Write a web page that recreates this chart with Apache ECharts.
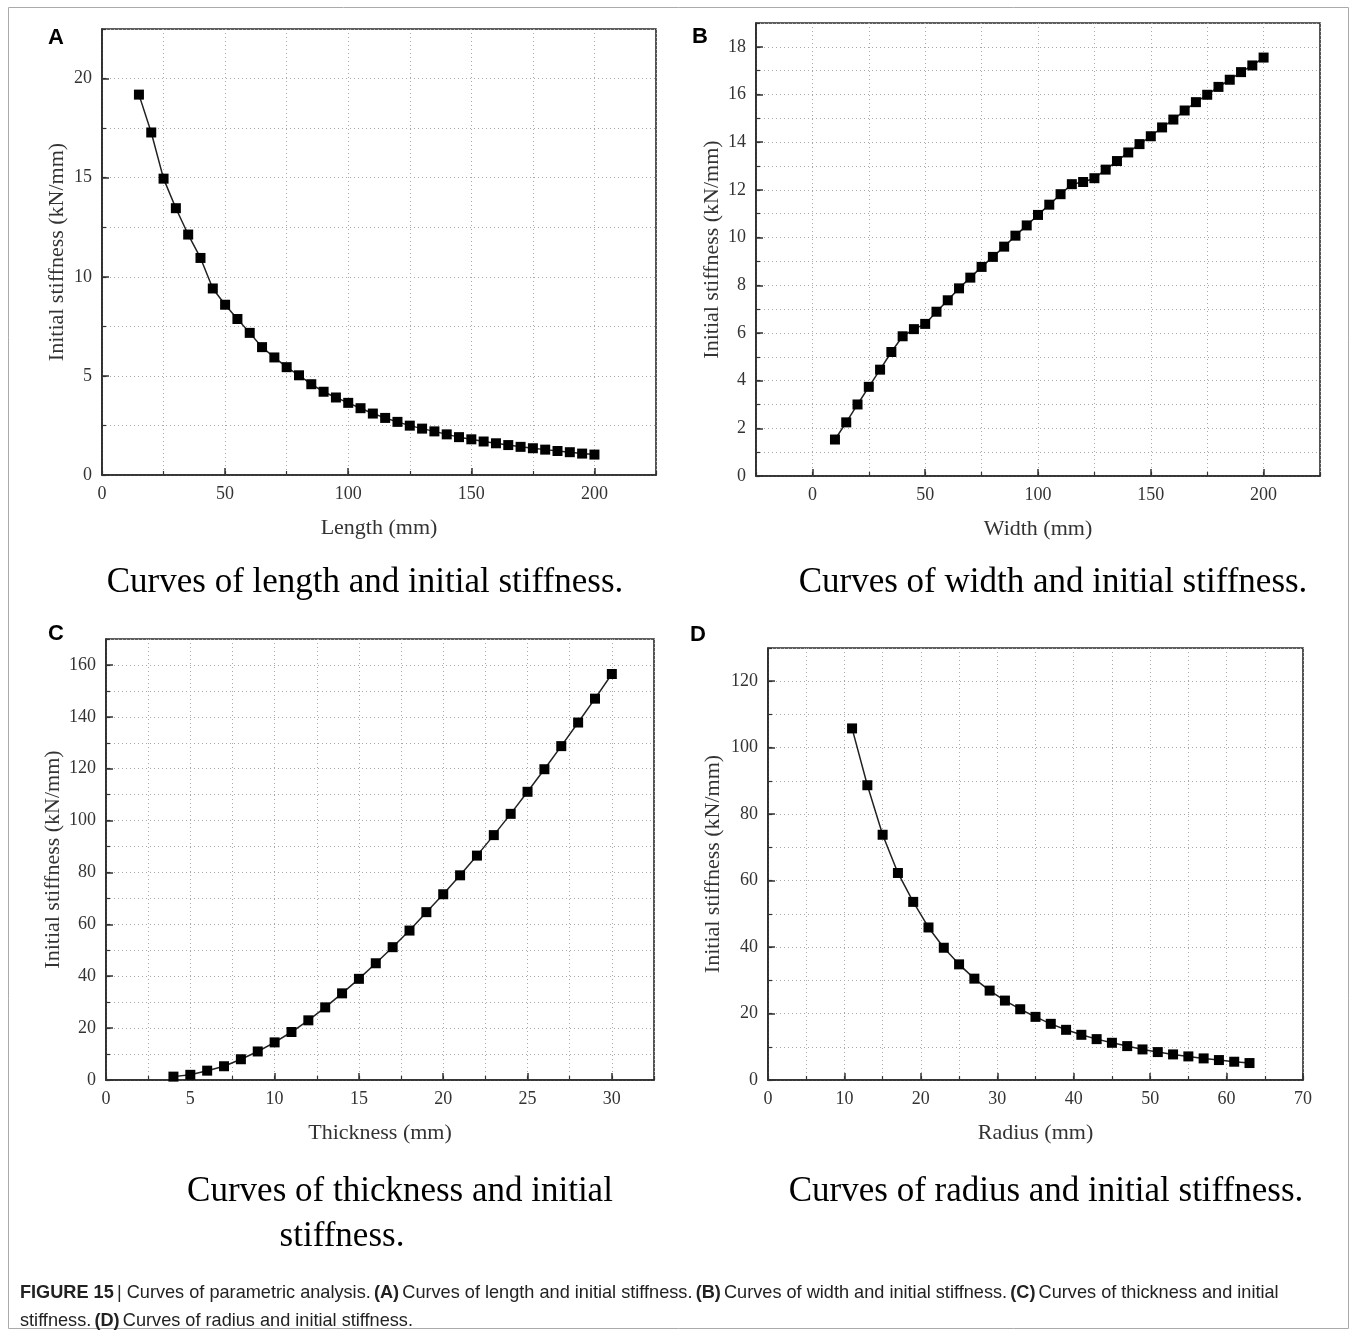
<!DOCTYPE html>
<html>
<head>
<meta charset="utf-8">
<script src="https://cdn.jsdelivr.net/npm/echarts@6/dist/echarts.min.js"></script>
<style>
  html, body { margin: 0; padding: 0; background: #fff; }
  #chart { width: 1356px; height: 1336px; }
</style>
</head>
<body>
<div id="chart"></div>
<script>
// A: length
const lengthX = [15, 20, 25, 30, 35, 40, 45, 50, 55, 60, 65, 70, 75, 80, 85, 90, 95, 100, 105, 110,
  115, 120, 125, 130, 135, 140, 145, 150, 155, 160, 165, 170, 175, 180, 185, 190, 195, 200];
const lengthK = [19.19, 17.28, 14.95, 13.46, 12.13, 10.95, 9.41, 8.59, 7.87, 7.17, 6.45, 5.93, 5.44, 5.03,
  4.58, 4.20, 3.91, 3.64, 3.37, 3.10, 2.88, 2.68, 2.49, 2.34, 2.20, 2.05, 1.91, 1.80, 1.69, 1.60,
  1.51, 1.42, 1.35, 1.28, 1.21, 1.15, 1.08, 1.03];
// B: width
const widthX = [10, 15, 20, 25, 30, 35, 40, 45, 50, 55, 60, 65, 70, 75, 80, 85, 90, 95, 100, 105,
  110, 115, 120, 125, 130, 135, 140, 145, 150, 155, 160, 165, 170, 175, 180, 185, 190, 195, 200];
const widthK = [1.53, 2.25, 3.00, 3.74, 4.46, 5.20, 5.86, 6.16, 6.38, 6.89, 7.37, 7.87, 8.32, 8.77, 9.19,
  9.62, 10.08, 10.51, 10.95, 11.38, 11.82, 12.24, 12.33, 12.49, 12.85, 13.21, 13.57, 13.92, 14.25,
  14.62, 14.95, 15.33, 15.68, 15.99, 16.32, 16.62, 16.94, 17.22, 17.55];
// C: thickness
const thickX = [4, 5, 6, 7, 8, 9, 10, 11, 12, 13, 14, 15, 16, 17, 18, 19, 20, 21, 22, 23, 24, 25, 26, 27, 28, 29, 30];
const thickK = [1.3, 2.0, 3.6, 5.3, 8.0, 11.0, 14.5, 18.5, 23.0, 28.0, 33.4, 39.0, 45.0, 51.2, 57.6, 64.7,
  71.6, 78.9, 86.5, 94.4, 102.6, 111.1, 119.8, 128.7, 137.8, 147.0, 156.5];
// D: radius
const radiusX = [11, 13, 15, 17, 19, 21, 23, 25, 27, 29, 31, 33, 35, 37, 39, 41, 43, 45, 47, 49, 51, 53, 55, 57, 59, 61, 63];
const radiusK = [105.8, 88.7, 73.8, 62.3, 53.6, 45.9, 39.8, 34.8, 30.5, 26.9, 23.9, 21.3, 19.0, 16.9, 15.1,
  13.6, 12.3, 11.2, 10.2, 9.2, 8.4, 7.7, 7.1, 6.5, 6.0, 5.5, 5.1];

// tick labels
const lengthTicks = [0, 50, 100, 150, 200];
const widthTicks = [0, 50, 100, 150, 200];
const thickTicks = [0, 5, 10, 15, 20, 25, 30];
const radiusTicks = [0, 10, 20, 30, 40, 50, 60, 70];
const kTicksA = [0, 5, 10, 15, 20];
const kTicksB = [0, 2, 4, 6, 8, 10, 12, 14, 16, 18];
const kTicksC = [0, 20, 40, 60, 80, 100, 120, 140, 160];
const kTicksD = [0, 20, 40, 60, 80, 100, 120];

const SERIF = "'Liberation Serif', 'Times New Roman', serif";
const SANS = "'Liberation Sans', Arial, sans-serif";
const yTitle = 'Initial stiffness (kN/mm)';

// two axes per side: one for dotted grid + minor ticks, one for labelled major ticks
function axes(pos, gi, min, max, step, ticks, name, gap) {
  const minor = {
    type: 'value', position: pos, gridIndex: gi, min: min, max: max, interval: step,
    axisLine: { show: true, onZero: false, lineStyle: { color: '#2a2a2a', width: 1.6 } },
    axisTick: { show: true, inside: true, length: 4, lineStyle: { color: '#333', width: 1.2 } },
    axisLabel: { show: false },
    splitLine: { show: true, lineStyle: { color: '#a8a8a8', type: [1, 3], width: 1 } }
  };
  const major = {
    type: 'value', position: pos, gridIndex: gi, min: min, max: max,
    axisLine: { show: false, onZero: false },
    axisTick: { show: true, inside: true, length: 7, customValues: ticks, lineStyle: { color: '#333', width: 1.5 } },
    axisLabel: { show: true, customValues: ticks, fontFamily: SERIF, fontSize: 18, color: '#333', margin: 10 },
    splitLine: { show: false },
    name: name, nameLocation: 'middle', nameGap: gap,
    nameTextStyle: { fontFamily: SERIF, fontSize: 22, color: '#333' }
  };
  return [minor, major];
}

const xAxes = [].concat(
  axes('bottom', 0, 0, 225, 25, lengthTicks, 'Length (mm)', 42),
  axes('bottom', 1, -25, 225, 25, widthTicks, 'Width (mm)', 42),
  axes('bottom', 2, 0, 32.5, 2.5, thickTicks, 'Thickness (mm)', 42),
  axes('bottom', 3, 0, 70, 5, radiusTicks, 'Radius (mm)', 42)
);
const yAxes = [].concat(
  axes('left', 0, 0, 22.5, 2.5, kTicksA, yTitle, 34),
  axes('left', 1, 0, 19, 1, kTicksB, yTitle, 33),
  axes('left', 2, 0, 170, 10, kTicksC, yTitle, 42),
  axes('left', 3, 0, 130, 10, kTicksD, yTitle, 44)
);

function curve(i, xs, ys) {
  return {
    type: 'line', xAxisIndex: i * 2, yAxisIndex: i * 2,
    data: xs.map((x, j) => [x, ys[j]]),
    symbol: 'rect', symbolSize: 10,
    itemStyle: { color: '#000' },
    lineStyle: { color: '#222', width: 1.5 },
    z: 5
  };
}

const gridBox = { show: true, borderColor: '#2a2a2a', borderWidth: 1.6, backgroundColor: 'transparent' };

function label(x, y, t) {
  return { type: 'text', x: x, y: y, style: { text: t, font: 'bold 22px ' + SANS, fill: '#000', textAlign: 'center', textVerticalAlign: 'middle' } };
}
function caption(x, y, t) {
  return { type: 'text', x: x, y: y, style: { text: t, font: '35px ' + SERIF, fill: '#000', textAlign: 'center', textVerticalAlign: 'middle' } };
}
const capRich = {
  n: { fontFamily: SANS, fontSize: 19, fill: '#222' },
  b: { fontFamily: SANS, fontSize: 19, fontWeight: 'bold', fill: '#222' }
};

const chart = echarts.init(document.getElementById('chart'));
chart.setOption({
  animation: false,
  backgroundColor: '#fff',
  grid: [
    Object.assign({ left: 102, top: 29, width: 554, height: 446 }, gridBox),
    Object.assign({ left: 756, top: 23, width: 564, height: 453 }, gridBox),
    Object.assign({ left: 106, top: 639, width: 548, height: 441 }, gridBox),
    Object.assign({ left: 768, top: 648, width: 535, height: 432 }, gridBox)
  ],
  xAxis: xAxes,
  yAxis: yAxes,
  series: [
    curve(0, lengthX, lengthK),
    curve(1, widthX, widthK),
    curve(2, thickX, thickK),
    curve(3, radiusX, radiusK)
  ],
  graphic: [
    { type: 'rect', silent: true, shape: { x: 8.5, y: 7.5, width: 1340, height: 1321 }, style: { fill: 'none', stroke: '#aaa', lineWidth: 1 } },
    label(56, 38, 'A'), label(700, 37, 'B'), label(56, 634, 'C'), label(698, 635, 'D'),
    caption(365, 583, 'Curves of length and initial stiffness.'),
    caption(1053, 583, 'Curves of width and initial stiffness.'),
    caption(400, 1192, 'Curves of thickness and initial'),
    caption(342, 1237, 'stiffness.'),
    caption(1046, 1192, 'Curves of radius and initial stiffness.'),
    { type: 'text', x: 20, y: 1293, scaleX: 0.955,
      style: { text: '{b|FIGURE 15} {n|| Curves of parametric analysis.} {b|(A)} {n|Curves of length and initial stiffness.} {b|(B)} {n|Curves of width and initial stiffness.} {b|(C)} {n|Curves of thickness and initial}',
        rich: capRich, textVerticalAlign: 'middle' } },
    { type: 'text', x: 20, y: 1321, scaleX: 0.955,
      style: { text: '{n|stiffness.} {b|(D)} {n|Curves of radius and initial stiffness.}',
        rich: capRich, textVerticalAlign: 'middle' } }
  ]
});
</script>
</body>
</html>
